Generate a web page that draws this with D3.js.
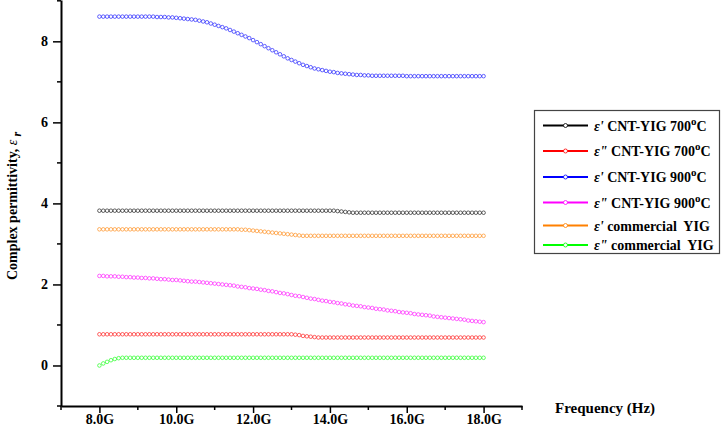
<!DOCTYPE html>
<html>
<head>
<meta charset="utf-8">
<script src="https://cdn.jsdelivr.net/npm/d3@7"></script>
<style>
	body { margin: 0; background: #fff; }
	svg text { font-family: "Liberation Serif", "Times New Roman", serif; font-weight: bold; }
</style>
</head>
<body>
<div id="chart"></div>
<script>
// Frequency sweep, GHz
const freq = [
	8.0, 8.1, 8.2, 8.3, 8.4, 8.5, 8.6, 8.7, 8.8, 8.9,
	9.0, 9.1, 9.2, 9.3, 9.4, 9.5, 9.6, 9.7, 9.8, 9.9,
	10.0, 10.1, 10.2, 10.3, 10.4, 10.5, 10.6, 10.7, 10.8, 10.9,
	11.0, 11.1, 11.2, 11.3, 11.4, 11.5, 11.6, 11.7, 11.8, 11.9,
	12.0, 12.1, 12.2, 12.3, 12.4, 12.5, 12.6, 12.7, 12.8, 12.9,
	13.0, 13.1, 13.2, 13.3, 13.4, 13.5, 13.6, 13.7, 13.8, 13.9,
	14.0, 14.1, 14.2, 14.3, 14.4, 14.5, 14.6, 14.7, 14.8, 14.9,
	15.0, 15.1, 15.2, 15.3, 15.4, 15.5, 15.6, 15.7, 15.8, 15.9,
	16.0, 16.1, 16.2, 16.3, 16.4, 16.5, 16.6, 16.7, 16.8, 16.9,
	17.0, 17.1, 17.2, 17.3, 17.4, 17.5, 17.6, 17.7, 17.8, 17.9,
	18.0
];

// e' CNT-YIG 700C
const epsReal700 = [
	3.82, 3.82, 3.82, 3.82, 3.82, 3.82, 3.82, 3.82, 3.82, 3.82,
	3.82, 3.82, 3.82, 3.82, 3.82, 3.82, 3.82, 3.82, 3.82, 3.82,
	3.82, 3.82, 3.82, 3.82, 3.82, 3.82, 3.82, 3.82, 3.82, 3.82,
	3.82, 3.82, 3.82, 3.82, 3.82, 3.82, 3.82, 3.82, 3.82, 3.82,
	3.82, 3.82, 3.82, 3.82, 3.82, 3.82, 3.82, 3.82, 3.82, 3.82,
	3.82, 3.82, 3.82, 3.82, 3.82, 3.82, 3.82, 3.82, 3.82, 3.82,
	3.82, 3.82, 3.81, 3.80, 3.79, 3.78, 3.77, 3.77, 3.77, 3.77,
	3.77, 3.77, 3.77, 3.77, 3.77, 3.77, 3.77, 3.77, 3.77, 3.77,
	3.77, 3.77, 3.77, 3.77, 3.77, 3.77, 3.77, 3.77, 3.77, 3.77,
	3.77, 3.77, 3.77, 3.77, 3.77, 3.77, 3.77, 3.77, 3.77, 3.77,
	3.77
];

// e'' CNT-YIG 700C
const epsImag700 = [
	0.77, 0.77, 0.77, 0.77, 0.77, 0.77, 0.77, 0.77, 0.77, 0.77,
	0.77, 0.77, 0.77, 0.77, 0.77, 0.77, 0.77, 0.77, 0.77, 0.77,
	0.77, 0.77, 0.77, 0.77, 0.77, 0.77, 0.77, 0.77, 0.77, 0.77,
	0.77, 0.77, 0.77, 0.77, 0.77, 0.77, 0.77, 0.77, 0.77, 0.77,
	0.77, 0.77, 0.77, 0.77, 0.77, 0.77, 0.77, 0.77, 0.77, 0.77,
	0.77, 0.76, 0.75, 0.73, 0.72, 0.71, 0.70, 0.69, 0.69, 0.69,
	0.69, 0.69, 0.69, 0.69, 0.69, 0.69, 0.69, 0.69, 0.69, 0.69,
	0.69, 0.69, 0.69, 0.69, 0.69, 0.69, 0.69, 0.69, 0.69, 0.69,
	0.69, 0.69, 0.69, 0.69, 0.69, 0.69, 0.69, 0.69, 0.69, 0.69,
	0.69, 0.69, 0.69, 0.69, 0.69, 0.69, 0.69, 0.69, 0.69, 0.69,
	0.69
];

// e' CNT-YIG 900C
const epsReal900 = [
	8.61, 8.61, 8.61, 8.61, 8.61, 8.61, 8.61, 8.61, 8.61, 8.61,
	8.61, 8.61, 8.61, 8.61, 8.61, 8.60, 8.60, 8.60, 8.59, 8.59,
	8.58, 8.57, 8.56, 8.55, 8.54, 8.53, 8.51, 8.49, 8.47, 8.44,
	8.41, 8.38, 8.35, 8.32, 8.28, 8.24, 8.20, 8.16, 8.12, 8.08,
	8.03, 7.98, 7.93, 7.88, 7.83, 7.78, 7.73, 7.68, 7.63, 7.58,
	7.54, 7.50, 7.46, 7.42, 7.39, 7.36, 7.33, 7.31, 7.29, 7.27,
	7.25, 7.24, 7.22, 7.21, 7.20, 7.19, 7.18, 7.17, 7.17, 7.16,
	7.16, 7.15, 7.15, 7.15, 7.15, 7.15, 7.15, 7.15, 7.15, 7.15,
	7.14, 7.14, 7.14, 7.14, 7.14, 7.14, 7.14, 7.14, 7.14, 7.14,
	7.14, 7.14, 7.14, 7.14, 7.14, 7.14, 7.14, 7.14, 7.14, 7.14,
	7.14
];

// e'' CNT-YIG 900C
const epsImag900 = [
	2.21, 2.21, 2.20, 2.20, 2.20, 2.19, 2.19, 2.18, 2.18, 2.17,
	2.17, 2.16, 2.16, 2.15, 2.15, 2.14, 2.13, 2.13, 2.12, 2.11,
	2.11, 2.10, 2.09, 2.08, 2.07, 2.07, 2.06, 2.05, 2.04, 2.03,
	2.02, 2.01, 2.00, 1.99, 1.98, 1.97, 1.95, 1.94, 1.93, 1.91,
	1.90, 1.89, 1.87, 1.86, 1.84, 1.83, 1.81, 1.79, 1.78, 1.76,
	1.74, 1.72, 1.71, 1.69, 1.67, 1.65, 1.64, 1.62, 1.60, 1.59,
	1.57, 1.56, 1.54, 1.53, 1.51, 1.50, 1.48, 1.47, 1.46, 1.44,
	1.43, 1.42, 1.40, 1.39, 1.38, 1.36, 1.35, 1.34, 1.32, 1.31,
	1.30, 1.29, 1.27, 1.26, 1.25, 1.24, 1.23, 1.21, 1.20, 1.19,
	1.18, 1.17, 1.16, 1.15, 1.14, 1.13, 1.11, 1.10, 1.09, 1.08,
	1.07
];

// e' commercial YIG
const epsRealYIG = [
	3.36, 3.36, 3.36, 3.36, 3.36, 3.36, 3.36, 3.36, 3.36, 3.36,
	3.36, 3.36, 3.36, 3.36, 3.36, 3.36, 3.36, 3.36, 3.36, 3.36,
	3.36, 3.36, 3.36, 3.36, 3.36, 3.36, 3.36, 3.36, 3.36, 3.36,
	3.36, 3.36, 3.36, 3.36, 3.36, 3.36, 3.36, 3.35, 3.35, 3.34,
	3.33, 3.32, 3.31, 3.30, 3.29, 3.28, 3.27, 3.26, 3.25, 3.24,
	3.23, 3.22, 3.21, 3.20, 3.20, 3.20, 3.20, 3.20, 3.20, 3.20,
	3.20, 3.20, 3.20, 3.20, 3.20, 3.20, 3.20, 3.20, 3.20, 3.20,
	3.20, 3.20, 3.20, 3.20, 3.20, 3.20, 3.20, 3.20, 3.20, 3.20,
	3.20, 3.20, 3.20, 3.20, 3.20, 3.20, 3.20, 3.20, 3.20, 3.20,
	3.20, 3.20, 3.20, 3.20, 3.20, 3.20, 3.20, 3.20, 3.20, 3.20,
	3.20
];

// e'' commercial YIG
const epsImagYIG = [
	0.00, 0.05, 0.09, 0.13, 0.16, 0.18, 0.19, 0.19, 0.19, 0.19,
	0.19, 0.19, 0.19, 0.19, 0.19, 0.19, 0.19, 0.19, 0.19, 0.19,
	0.19, 0.19, 0.19, 0.19, 0.19, 0.19, 0.19, 0.19, 0.19, 0.19,
	0.19, 0.19, 0.19, 0.19, 0.19, 0.19, 0.19, 0.19, 0.19, 0.19,
	0.19, 0.19, 0.19, 0.19, 0.19, 0.19, 0.19, 0.19, 0.19, 0.19,
	0.19, 0.19, 0.19, 0.19, 0.19, 0.19, 0.19, 0.19, 0.19, 0.19,
	0.19, 0.19, 0.19, 0.19, 0.19, 0.19, 0.19, 0.19, 0.19, 0.19,
	0.19, 0.19, 0.19, 0.19, 0.19, 0.19, 0.19, 0.19, 0.19, 0.19,
	0.19, 0.19, 0.19, 0.19, 0.19, 0.19, 0.19, 0.19, 0.19, 0.19,
	0.19, 0.19, 0.19, 0.19, 0.19, 0.19, 0.19, 0.19, 0.19, 0.19,
	0.19
];

// legend text: [prime, middle text, superscript, tail]
const seriesPrime = ["'", "\"", "'", "\"", "'", "\""];
const seriesText = [" CNT-YIG 700", " CNT-YIG 700", " CNT-YIG 900", " CNT-YIG 900", " commercial\u00a0 YIG", " commercial\u00a0 YIG"];
const seriesSup = ["o", "o", "o", "o", "", ""];
const seriesTail = ["C", "C", "C", "C", "", ""];
const seriesColor = ["#000000", "#ff0000", "#0000ff", "#ff00ff", "#ff8000", "#00ff00"];
const seriesValues = [epsReal700, epsImag700, epsReal900, epsImag900, epsRealYIG, epsImagYIG];

const xMajorTicks = [8, 10, 12, 14, 16, 18];
const xMinorTicks = [7, 9, 11, 13, 15, 17, 19];
const yMajorTicks = [0, 2, 4, 6, 8];
const yMinorTicks = [-1, 1, 3, 5, 7, 9];

const WIDTH = 721, HEIGHT = 428;
const PLOT_LEFT = 61, PLOT_RIGHT = 522, PLOT_TOP = 0, PLOT_BOTTOM = 406;

const svg = d3.select("#chart")
			  .append("svg")
			  .attr("width", WIDTH)
			  .attr("height", HEIGHT);

const x = d3.scaleLinear().domain([7, 19]).range([PLOT_LEFT, PLOT_RIGHT]);
const y = d3.scaleLinear().domain([-1, 9.02]).range([PLOT_BOTTOM, PLOT_TOP]);

// Series markers, drawn as open circles
seriesValues.forEach(function(vals, s) {
	svg.append("g")
	   .selectAll("circle")
	   .data(vals)
	   .join("circle")
	   .attr("cx", (d, i) => x(freq[i]))
	   .attr("cy", d => y(d))
	   .attr("r", 1.8)
	   .attr("fill", "none")
	   .attr("stroke", seriesColor[s])
	   .attr("stroke-width", 0.75)
	   .attr("stroke-opacity", 0.8);
});

// X axis
const xAxis = svg.append("g").attr("transform", "translate(0," + PLOT_BOTTOM + ")");
xAxis.call(d3.axisBottom(x).tickValues(xMajorTicks).tickSize(7).tickSizeOuter(0)
		   .tickFormat(d => d3.format(".1f")(d) + "G"));
xAxis.append("g")
	 .selectAll("line")
	 .data(xMinorTicks)
	 .join("line")
	 .attr("x1", d => x(d)).attr("x2", d => x(d))
	 .attr("y1", 0).attr("y2", 4)
	 .attr("stroke", "#000").attr("stroke-width", 1.5);

// Y axis
const yAxis = svg.append("g").attr("transform", "translate(" + PLOT_LEFT + ",0)");
yAxis.call(d3.axisLeft(y).tickValues(yMajorTicks).tickSize(8).tickSizeOuter(0).tickPadding(5));
yAxis.append("g")
	 .selectAll("line")
	 .data(yMinorTicks)
	 .join("line")
	 .attr("y1", d => y(d)).attr("y2", d => y(d))
	 .attr("x1", 0).attr("x2", -4)
	 .attr("stroke", "#000").attr("stroke-width", 1.5);

svg.selectAll(".domain").attr("stroke", "#000").attr("stroke-width", 2);
svg.selectAll(".tick line").attr("stroke", "#000").attr("stroke-width", 1.5);
svg.selectAll(".tick text")
   .attr("font-family", "Liberation Serif, serif")
   .attr("font-weight", "bold")
   .attr("font-size", "14px")
   .attr("fill", "#000");
xAxis.selectAll(".tick text").attr("dy", "0.71em").attr("y", 8);

// Axis titles
svg.append("text")
   .attr("x", 555)
   .attr("y", 413)
   .attr("font-size", "15px")
   .text("Frequency (Hz)");

const yTitle = svg.append("text")
				  .attr("transform", "translate(17,206) rotate(-90)")
				  .attr("text-anchor", "middle")
				  .attr("font-size", "14px");
yTitle.append("tspan").text("Complex permittivity, ");
yTitle.append("tspan").attr("font-style", "italic").attr("font-weight", "normal").text("\u03b5");
yTitle.append("tspan").attr("font-style", "italic").attr("dy", 4).attr("font-size", "12px").text(" r");

// Legend
const LEGEND_ROWS = [125.5, 151, 177, 202.5, 225.5, 245];
const legend = svg.append("g");
legend.append("rect")
	  .attr("x", 534.5).attr("y", 110.5)
	  .attr("width", 185).attr("height", 143)
	  .attr("fill", "#fff")
	  .attr("stroke", "#444")
	  .attr("stroke-width", 1.2);

seriesColor.forEach(function(color, s) {
	const ry = LEGEND_ROWS[s];
	legend.append("line")
		  .attr("x1", 543).attr("x2", 588)
		  .attr("y1", ry).attr("y2", ry)
		  .attr("stroke", color).attr("stroke-width", 2);
	legend.append("circle")
		  .attr("cx", 565.5).attr("cy", ry).attr("r", 2)
		  .attr("fill", "#fff").attr("stroke", color).attr("stroke-width", 0.8);

	const t = legend.append("text")
					.attr("x", 594).attr("y", ry + 5)
					.attr("font-size", "14px");
	t.append("tspan").attr("font-style", "italic").text("\u03b5" + seriesPrime[s]);
	t.append("tspan").text(seriesText[s]);
	if (seriesSup[s]) {
		t.append("tspan").attr("dy", -6).attr("font-size", "11px").text(seriesSup[s]);
		t.append("tspan").attr("dy", 6).text(seriesTail[s]);
	}
});
</script>
</body>
</html>
